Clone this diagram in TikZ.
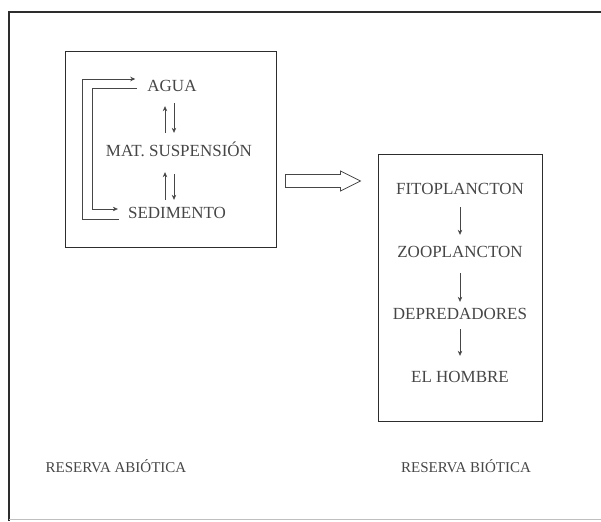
\documentclass[tikz,border=0pt]{standalone}
\usepackage{fontspec}
\setmainfont{Liberation Serif}
\usetikzlibrary{arrows.meta}
\definecolor{ink}{RGB}{70,70,70}
\definecolor{framec}{RGB}{45,45,45}
\begin{document}
\begin{tikzpicture}[x=1pt,y=-1pt,
  txt/.style={inner sep=0pt, text height=11pt, text depth=0pt, font=\fontsize{17}{19}\selectfont, text=ink},
  lbl/.style={inner sep=0pt, text height=10pt, text depth=0pt, font=\fontsize{15}{17}\selectfont, text=ink},
  boxc/.style={draw=framec, line width=0.9pt, inner sep=0pt},
  arr/.style={draw=ink, line width=0.6pt, -{Stealth[length=5pt,width=4.5pt]}},
  bigarrow/.style={draw=ink, line width=0.8pt, line join=miter},
]
\useasboundingbox (0,0) rectangle (601,521);
% outer frame
\draw[framec, line width=1.2pt] (601,12) -- (9,12) -- (9,521);
\draw[black!25, line width=0.8pt] (9,519.5) -- (601,519.5);

% boxes
\node[boxc, minimum width=211pt, minimum height=196pt] (abio) at (170.5,149) {};
\node[boxc, minimum width=164pt, minimum height=267pt] (bio) at (460,287.5) {};

% left texts
\node[txt] (agua) at (172,86) {AGUA};
\node[txt] (ms) at (179,151) {MAT. SUSPENSIÓN};
\node[txt] (sed) at (177,213) {SEDIMENTO};

% exchange arrows
\draw[arr, shorten <=12.5pt, shorten >=14.5pt] ([xshift=-14pt]ms.north) -- ([xshift=-7pt]agua.south);
\draw[arr, shorten <=11.5pt, shorten >=12.5pt] ([xshift=2pt]agua.south) -- ([xshift=-5pt]ms.north);
\draw[arr, shorten <=7.5pt, shorten >=15.5pt] ([xshift=-12pt]sed.north) -- ([xshift=-14pt]ms.south);
\draw[arr, shorten <=17.5pt, shorten >=7.5pt] ([xshift=-5pt]ms.south) -- ([xshift=-3pt]sed.north);

% bracket arrows
\draw[arr, shorten >=12pt] ([xshift=-9pt,yshift=-6pt]sed.west) -- ++(-37,0) |- ([yshift=7pt]agua.west);
\draw[arr, shorten >=10pt] ([xshift=-10pt,yshift=-2pt]agua.west) -- ++(-45,0) |- ([yshift=4pt]sed.west);

% transfer arrow (hollow) from the abiotic box to the biotic box
\coordinate (fl) at ([xshift=9pt]abio.east |- 0,181);
\draw[bigarrow] (fl) ++(0,-6.5) -- ++(55,0) -- ++(0,-3.5) -- ++(20,10) -- ++(-20,10) -- ++(0,-3.5) -- ++(-55,0) -- cycle;

% right texts
\node[txt] (fito) at (460,189) {FITOPLANCTON};
\node[txt] (zoo) at (460,252) {ZOOPLANCTON};
\node[txt] (dep) at (460,314) {DEPREDADORES};
\node[txt] (hom) at (460,377) {EL HOMBRE};

\draw[arr, shorten <=12.5pt, shorten >=11.5pt] (fito.south) -- (zoo.north);
\draw[arr, shorten <=15.5pt, shorten >=6.5pt] (zoo.south) -- (dep.north);
\draw[arr, shorten <=9.5pt, shorten >=15.5pt] (dep.south) -- (hom.north);

% labels
\node[lbl] (rab) at (116,467) {RESERVA ABIÓTICA};
\node[lbl] (rbi) at (466,467) {RESERVA BIÓTICA};
\end{tikzpicture}
\end{document}
